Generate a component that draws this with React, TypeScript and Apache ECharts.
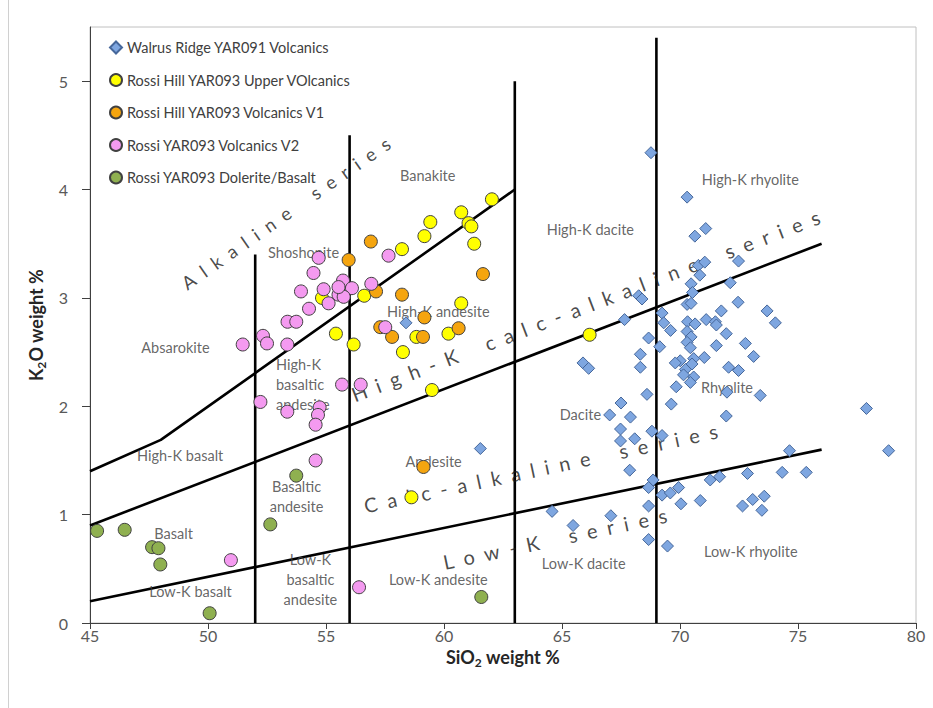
import React, { useEffect, useRef } from 'react';
import * as echarts from 'echarts';

// ---- data (SiO2 wt%, K2O wt%) ----
const walrus: [number, number][] = [
  [68.77, 4.34], [70.3, 3.93], [70.63, 3.57], [71.09, 3.64], [70.78, 3.3], [71.05, 3.33],
  [72.48, 3.34], [70.84, 3.21], [70.47, 3.13], [70.53, 3.05], [72.13, 3.14], [72.46, 2.96],
  [70.3, 2.94], [70.47, 2.95], [68.25, 3.02], [68.39, 2.99], [67.65, 2.8], [69.24, 2.86],
  [69.31, 2.77], [69.6, 2.7], [68.67, 2.63], [69.14, 2.55], [68.32, 2.48], [68.32, 2.36],
  [65.89, 2.4], [66.13, 2.35], [68.6, 2.11], [67.5, 2.03], [67.02, 1.92], [67.9, 1.9],
  [69.63, 2.02], [69.84, 2.18], [70.32, 2.78], [70.64, 2.76], [71.11, 2.8], [71.5, 2.78],
  [71.54, 2.75], [71.75, 2.88], [71.96, 2.67], [70.3, 2.69], [70.47, 2.64], [70.3, 2.59],
  [70.44, 2.54], [71.54, 2.56], [72.77, 2.58], [73.12, 2.46], [71.03, 2.45], [70.58, 2.44],
  [70.01, 2.42], [69.8, 2.4], [70.51, 2.39], [70.23, 2.34], [70.15, 2.29], [70.58, 2.27],
  [70.44, 2.22], [72.06, 2.36], [72.48, 2.33], [73.69, 2.88], [74.04, 2.77], [71.99, 2.13],
  [73.4, 2.1], [71.96, 1.91], [68.81, 1.77], [69.24, 1.73], [74.64, 1.59], [67.48, 1.79],
  [67.48, 1.68], [68.08, 1.7], [67.87, 1.41], [68.86, 1.32], [68.67, 1.25], [69.24, 1.18],
  [69.59, 1.2], [69.94, 1.25], [70.04, 1.1], [70.86, 1.13], [71.28, 1.32], [71.68, 1.35],
  [72.86, 1.38], [74.33, 1.39], [75.35, 1.39], [72.65, 1.08], [73.08, 1.14], [73.57, 1.17],
  [73.47, 1.04], [68.67, 1.08], [67.07, 0.99], [68.67, 0.77], [69.47, 0.71], [64.58, 1.03],
  [65.47, 0.9], [77.9, 1.98], [78.84, 1.59], [58.39, 2.77], [61.54, 1.61],
];

const rossiUpper: [number, number][] = [
  [62.03, 3.91], [60.73, 3.79], [59.42, 3.7], [61.04, 3.69], [61.16, 3.66], [59.17, 3.57],
  [61.28, 3.5], [58.22, 3.45], [60.73, 2.95], [58.83, 2.64], [60.19, 2.67], [58.26, 2.5],
  [59.49, 2.15], [66.17, 2.66], [56.62, 3.02], [54.83, 3.0], [55.42, 2.67], [56.17, 2.57],
  [58.62, 1.16],
];

const rossiV1: [number, number][] = [
  [56.9, 3.52], [55.96, 3.35], [57.12, 3.06], [58.22, 3.03], [61.65, 3.22], [59.17, 2.82],
  [57.3, 2.73], [57.8, 2.64], [59.11, 2.64], [60.62, 2.72], [59.13, 1.44],
];

const rossiV2: [number, number][] = [
  [54.69, 3.37], [54.47, 3.23], [53.94, 3.06], [54.9, 3.08], [55.72, 3.16], [56.1, 3.09],
  [55.53, 3.03], [55.75, 3.01], [55.53, 3.1], [55.11, 2.95], [56.92, 3.13], [57.65, 3.39],
  [57.51, 2.73], [54.28, 2.9], [53.37, 2.78], [53.74, 2.78], [51.47, 2.57], [52.33, 2.65],
  [52.5, 2.58], [53.36, 2.57], [55.68, 2.2], [56.47, 2.2], [52.22, 2.04], [53.36, 1.95],
  [54.73, 1.99], [54.66, 1.92], [54.56, 1.83], [54.56, 1.5], [50.97, 0.58], [56.4, 0.33],
];

const rossiDolerite: [number, number][] = [
  [45.3, 0.85], [46.47, 0.86], [47.63, 0.7], [47.9, 0.69], [47.98, 0.54], [50.07, 0.09],
  [52.64, 0.91], [53.74, 1.36], [61.58, 0.24],
];

const seriesNames = [
  'Walrus Ridge YAR091 Volcanics',
  'Rossi Hill YAR093 Upper VOlcanics',
  'Rossi Hill YAR093 Volcanics V1',
  'Rossi YAR093 Volcanics V2',
  'Rossi YAR093 Dolerite/Basalt',
];

// classification boundaries (Peccerillo & Taylor)
const alkalineLine: [number, number][] = [[45, 1.4], [48, 1.69], [63, 4.0]];
const highKLine: [number, number][] = [[45, 0.9], [76, 3.5]];
const lowKLine: [number, number][] = [[45, 0.2], [76, 1.6]];
const verticalLines: [number, number][] = [[52, 3.4], [56, 4.5], [63, 5.0], [69, 5.4]];

const xTicks = [45, 50, 55, 60, 65, 70, 75, 80];
const yTicks = [0, 1, 2, 3, 4, 5];

// field labels: [text, SiO2, K2O]
const fieldLabels: [string, number, number][] = [
  ['Banakite', 59.31, 4.13],
  ['Shoshonite', 54.05, 3.42],
  ['Absarokite', 48.62, 2.54],
  ['High-K andesite', 59.76, 2.87],
  ['High-K basalt', 48.82, 1.55],
  ['High-K dacite', 66.2, 3.63],
  ['High-K rhyolite', 72.98, 4.09],
  ['Dacite', 65.78, 1.92],
  ['Rhyolite', 71.99, 2.17],
  ['Andesite', 59.56, 1.49],
  ['Basalt', 48.54, 0.83],
  ['Low-K basalt', 49.26, 0.29],
  ['Low-K andesite', 59.76, 0.4],
  ['Low-K dacite', 65.92, 0.55],
  ['Low-K rhyolite', 73.0, 0.66],
];
const multiLabels: [string, number, number, string][] = [
  ['High-K\nbasaltic\nandesite', 52.88, 2.2, 'left'],
  ['Basaltic\nandesite', 53.75, 1.17, 'center'],
  ['Low-K\nbasaltic\nandesite', 54.34, 0.4, 'center'],
];
// series names along boundaries: [text, SiO2, K2O, angle, font size]
const seriesLabels: [string, number, number, number, number][] = [
  ['Alkaline series', 53.3, 3.78, 35, 18.5],
  ['High-K calc-alkaline series', 66.0, 2.93, 21, 20],
  ['Calc-alkaline series', 64.1, 1.43, 12, 20],
  ['Low-K series', 64.7, 0.78, 12, 20],
];

const FONT = 'Lato, "Open Sans", "DejaVu Sans", sans-serif';

function spaced(s: string): string {
  return s
    .split(' ')
    .map((w) => w.split('').join('\u2002'))
    .join('\u2002\u2002\u2002');
}

export default function App() {
  const ref = useRef<HTMLDivElement>(null);
  useEffect(() => {
    const chart = echarts.init(ref.current!, null, { renderer: 'svg' });
    const circleStyle = (color: string) => ({
      color,
      borderColor: '#404040',
      borderWidth: 1,
      opacity: 1,
    });
    const boundary = (data: [number, number][]) => ({
      type: 'line',
      data,
      symbol: 'none',
      silent: true,
      z: 2,
      lineStyle: { color: '#000', width: 2.6 },
    });
    const labelData: any[] = [];
    fieldLabels.forEach(([t, x, y]) => {
      labelData.push({ value: [x, y], label: { formatter: t, fontSize: 14.5, color: '#404040' } });
    });
    multiLabels.forEach(([t, x, y, align]) => {
      labelData.push({
        value: [x, y],
        label: { formatter: t, fontSize: 14.5, color: '#404040', align, lineHeight: 20 },
      });
    });
    seriesLabels.forEach(([t, x, y, a, fs]) => {
      labelData.push({
        value: [x, y],
        label: { formatter: spaced(t), fontSize: fs, color: '#1a1a1a', rotate: a },
      });
    });

    const titleRich = {
      n: { fontSize: 18, fontWeight: 'bold', color: '#262626', lineHeight: 24, fontFamily: FONT },
      s: {
        fontSize: 12,
        fontWeight: 'bold',
        color: '#262626',
        lineHeight: 13,
        verticalAlign: 'bottom',
        fontFamily: FONT,
      },
    };

    const option: any = {
      animation: false,
      backgroundColor: '#fff',
      textStyle: { fontFamily: FONT },
      grid: {
        left: 90,
        right: 17,
        top: 27,
        bottom: 85,
        show: true,
        borderColor: '#c0c0c0',
        borderWidth: 1,
      },
      graphic: [
        {
          type: 'line',
          shape: { x1: 8.5, y1: 0, x2: 8.5, y2: 708 },
          style: { stroke: '#d0d0d0', lineWidth: 1 },
        },
      ],
      legend: {
        data: seriesNames,
        orient: 'vertical',
        left: 109,
        top: 40,
        padding: 0,
        itemWidth: 12,
        itemHeight: 12,
        itemGap: 17.5,
        textStyle: { fontSize: 14.5, color: '#404040', fontFamily: FONT },
      },
      xAxis: {
        type: 'value',
        min: 45,
        max: 80,
        interval: 5,
        axisLine: { show: true, onZero: false, lineStyle: { color: '#404040', width: 1 } },
        axisTick: { show: true, length: 6, lineStyle: { color: '#404040' }, customValues: xTicks },
        axisLabel: { color: '#595959', fontSize: 16, margin: 4, fontFamily: FONT, customValues: xTicks },
        splitLine: { show: false },
        name: '{n|SiO}{s|2}{n| weight %}',
        nameLocation: 'middle',
        nameGap: 12,
        nameTextStyle: { rich: titleRich },
      },
      yAxis: {
        type: 'value',
        min: 0,
        max: 5.5,
        axisLine: { show: true, onZero: false, lineStyle: { color: '#404040', width: 1 } },
        axisTick: { show: true, length: 8, lineStyle: { color: '#404040' }, customValues: yTicks },
        axisLabel: { color: '#595959', fontSize: 16, margin: 22, fontFamily: FONT, customValues: yTicks },
        splitLine: { show: false },
        name: '{n|K}{s|2}{n|O weight %}',
        nameLocation: 'middle',
        nameGap: 40,
        nameRotate: 90,
        nameTextStyle: { rich: titleRich },
      },
      series: [
        boundary(alkalineLine),
        boundary(highKLine),
        boundary(lowKLine),
        ...verticalLines.map(([x, top]) =>
          boundary([
            [x, 0],
            [x, top],
          ])
        ),
        {
          type: 'scatter',
          name: 'labels',
          data: labelData,
          symbol: 'circle',
          symbolSize: 0.1,
          silent: true,
          z: 3,
          itemStyle: { color: 'rgba(0,0,0,0)' },
          label: { show: true, position: 'inside', fontFamily: FONT },
        },
        {
          type: 'scatter',
          name: seriesNames[0],
          data: walrus,
          symbol: 'diamond',
          symbolSize: 12,
          z: 4,
          itemStyle: { color: '#7ea6e0', borderColor: '#46679a', borderWidth: 1, opacity: 1 },
        },
        {
          type: 'scatter',
          name: seriesNames[1],
          data: rossiUpper,
          symbol: 'circle',
          symbolSize: 13,
          z: 4,
          itemStyle: circleStyle('#ffff00'),
        },
        {
          type: 'scatter',
          name: seriesNames[2],
          data: rossiV1,
          symbol: 'circle',
          symbolSize: 13,
          z: 4,
          itemStyle: circleStyle('#f5a50f'),
        },
        {
          type: 'scatter',
          name: seriesNames[3],
          data: rossiV2,
          symbol: 'circle',
          symbolSize: 13,
          z: 4,
          itemStyle: circleStyle('#f49af0'),
        },
        {
          type: 'scatter',
          name: seriesNames[4],
          data: rossiDolerite,
          symbol: 'circle',
          symbolSize: 13,
          z: 4,
          itemStyle: circleStyle('#8fb050'),
        },
      ],
    };
    chart.setOption(option);
    return () => chart.dispose();
  }, []);
  return (
    <div
      ref={ref}
      style={{ position: 'absolute', left: 0, top: 0, width: 933, height: 708, background: '#fff' }}
    />
  );
}
